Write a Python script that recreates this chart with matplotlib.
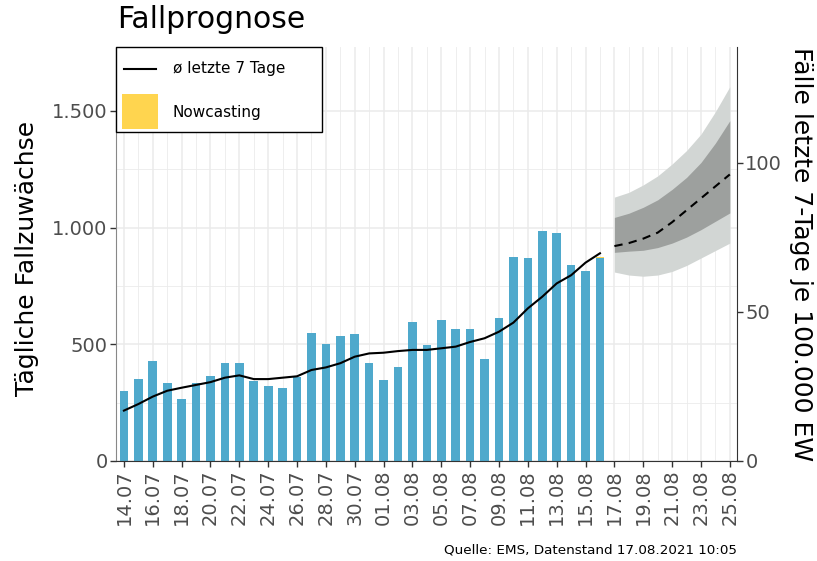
import matplotlib
matplotlib.use("Agg")
import matplotlib.pyplot as plt
from matplotlib.lines import Line2D
from matplotlib.patches import Rectangle
import numpy as np

plt.rcParams['font.family'] = ['DejaVu Sans']

# daily new cases 14.07 - 16.08
dates = ['14.07', '15.07', '16.07', '17.07', '18.07', '19.07', '20.07', '21.07', '22.07',
         '23.07', '24.07', '25.07', '26.07', '27.07', '28.07', '29.07', '30.07', '31.07',
         '01.08', '02.08', '03.08', '04.08', '05.08', '06.08', '07.08', '08.08', '09.08',
         '10.08', '11.08', '12.08', '13.08', '14.08', '15.08', '16.08']
cases = [300, 351, 428, 334, 264, 335, 363, 419, 419, 343, 321, 314, 361, 548, 501, 534,
         543, 419, 346, 403, 596, 497, 603, 567, 564, 437, 614, 875, 870, 984, 976, 840,
         815, 870]
nowcast = [0] * 33 + [6]
avg7 = [216, 244, 276, 301, 314, 326, 338, 357, 367, 351, 351, 357, 363, 390, 401, 419,
        447, 461, 464, 471, 476, 476, 483, 490, 510, 526, 554, 593, 654, 704, 761, 796,
        850, 890]

# forecast 17.08 - 25.08 (per 100.000 EW)
fc_dates = ['17.08', '18.08', '19.08', '20.08', '21.08', '22.08', '23.08', '24.08', '25.08']
fc_median = [72, 73, 74.5, 76.5, 80, 84, 88, 92, 96]
fc_lo80 = [69.9, 70.3, 70.6, 71.5, 73, 75, 77.5, 80.3, 83.1]
fc_hi80 = [81.6, 83, 85, 87.5, 91, 95, 100, 106.5, 114]
fc_lo95 = [63.3, 62.3, 61.9, 62.3, 63.5, 65.5, 68, 70.5, 73]
fc_hi95 = [88.4, 90, 92.5, 95.5, 99.5, 104, 109.5, 117, 125.4]

legend_labels = ['ø letzte 7 Tage', 'Nowcasting']

all_dates = dates + fc_dates
x = np.arange(len(dates))
xf = np.arange(len(dates), len(all_dates))

W, H = 817, 561
fig = plt.figure(figsize=(W / 100, H / 100), dpi=100)
ax = fig.add_axes([116 / W, 1 - 461 / H, (737 - 116) / W, (461 - 47) / H])
ax2 = ax.twinx()

ax.set_axisbelow(True)
ax.bar(x, cases, width=0.6, color='#4fa9cc', zorder=2)
ax.bar(x, nowcast, width=0.6, bottom=cases, color='#ffd54f', zorder=2)
ax.plot(x, avg7, color='black', lw=1.5, zorder=3)

ax2.fill_between(xf, fc_lo95, fc_hi95, color='#d2d6d4', lw=0)
ax2.fill_between(xf, fc_lo80, fc_hi80, color='#9da09e', lw=0)
ax2.plot(xf, fc_median, color='black', lw=1.5, dashes=(4, 3))

ax.set_xlim(-0.55, 42.5)
ax.set_ylim(0, 1774)
ax2.set_ylim(0, 138.7)

ax.set_xticks(np.arange(0, len(all_dates), 2))
ax.set_xticklabels(all_dates[::2], rotation=90, fontsize=14, color='#4d4d4d')
ax.set_xticks(np.arange(1, len(all_dates), 2), minor=True)
ax.set_yticks([0, 500, 1000, 1500])
ax.set_yticklabels(['0', '500', '1.000', '1.500'], fontsize=14, color='#4d4d4d')
ax.set_yticks([250, 750, 1250], minor=True)
ax2.set_yticks([0, 50, 100])
ax2.set_yticklabels(['0', '50', '100'], fontsize=14, color='#4d4d4d')

ax.grid(True, which='major', color='#ebebeb', lw=1.1)
ax.grid(True, which='minor', color='#ebebeb', lw=0.6)
ax.tick_params(axis='x', which='minor', length=0)
ax.tick_params(axis='both', which='major', length=4, color='#333333', width=1, pad=2)
ax.tick_params(axis='y', which='minor', length=0)
ax2.tick_params(axis='y', length=4, color='#333333', width=1, pad=2)

for a in (ax, ax2):
    a.spines['top'].set_visible(False)
ax.spines['right'].set_visible(False)
ax2.spines['left'].set_visible(False)
ax2.spines['bottom'].set_visible(False)
ax.spines['left'].set_color('#888888')
ax.spines['bottom'].set_color('#333333')
ax2.spines['right'].set_color('#333333')

fig.text(27 / W, 1 - 258 / H, 'Tägliche Fallzuwächse', fontsize=18, rotation=90,
         ha='center', va='center')
fig.text(801 / W, 1 - 254 / H, 'Fälle letzte 7-Tage je 100.000 EW', fontsize=18,
         rotation=-90, ha='center', va='center')

fig.text(117 / W, 1 - 20 / H, 'Fallprognose', fontsize=21.5, va='center', ha='left')
fig.text(737 / W, 1 - 550 / H, 'Quelle: EMS, Datenstand 17.08.2021 10:05', fontsize=9.7,
         ha='right', va='center')

# legend, drawn by hand in figure pixels
tf = fig.transFigure
fig.add_artist(Rectangle((116 / W, 1 - 132 / H), (322 - 116) / W, (132 - 47) / H,
                         transform=tf, facecolor='white', edgecolor='black', lw=1,
                         zorder=3))
fig.add_artist(Line2D([124 / W, 156 / W], [1 - 69 / H, 1 - 69 / H], transform=tf,
                      color='black', lw=1.5, zorder=4))
fig.add_artist(Rectangle((122 / W, 1 - 129 / H), 36 / W, 35 / H, transform=tf,
                         facecolor='#ffd54f', edgecolor='none', zorder=4))
fig.text(173 / W, 1 - 69 / H, legend_labels[0], fontsize=11, va='center', ha='left',
         zorder=5)
fig.text(173 / W, 1 - 112 / H, legend_labels[1], fontsize=11, va='center', ha='left',
         zorder=5)

fig.savefig('out.png', dpi=100)
